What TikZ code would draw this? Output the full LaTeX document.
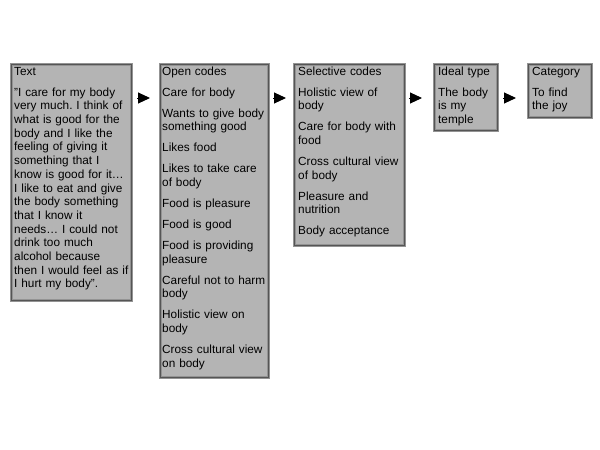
\documentclass[tikz,border=0pt]{standalone}
\usepackage{fontspec}
\setmainfont{Liberation Sans}
\usetikzlibrary{arrows.meta}
\definecolor{boxfill}{HTML}{B4B4B4}
\definecolor{boxedge}{HTML}{939393}
\definecolor{boxinner}{HTML}{555555}
\tikzset{
  codebox/.style={draw=boxedge, fill=boxfill, line width=3pt, inner sep=0pt, anchor=north west},
  innerline/.style={draw=boxinner, line width=0.8pt},
  boxtext/.style={anchor=north west, inner sep=0pt, align=left, text width=#1,
    font=\fontsize{11.8}{13.7}\selectfont\frenchspacing},
  flowarrow/.style={line width=1pt, -{Triangle[length=12pt,width=11pt]}}
}
\newcommand{\gap}{\\[7.3pt]}
\begin{document}
\begin{tikzpicture}[x=1pt,y=1pt]
\useasboundingbox (0,0) rectangle (600,-450);
% boxes
\node[codebox, minimum width=120pt, minimum height=236pt] (b1) at (9.5,-62.5) {};
\node[codebox, minimum width=108pt, minimum height=313pt] (b2) at (158.5,-62.5) {};
\node[codebox, minimum width=110pt, minimum height=181pt] (b3) at (292.5,-62.5) {};
\node[codebox, minimum width=63pt, minimum height=66pt] (b4) at (432.5,-62.5) {};
\node[codebox, minimum width=63pt, minimum height=53pt] (b5) at (526.5,-62.5) {};
\foreach \b in {b1,b2,b3,b4,b5}{
  \draw[innerline] ([shift={(1.6,-1.6)}]\b.north west) rectangle ([shift={(-1.6,1.6)}]\b.south east);
}
% texts
\node[boxtext=130pt] (t1) at (14,-65.4) {\strut Text\gap
\symbol{34}I care for my body\\ very much. I think of\\ what is good for the\\ body and I like the\\ feeling of giving it\\ something that I\\ know is good for it\ldots\\ I like to eat and give\\ the body something\\ that I know it\\ needs\ldots\ I could not\\ drink too much\\ alcohol because\\ then I would feel as if\\ I hurt my body”.};
\node[boxtext=130pt] (t2) at (162,-65.4) {\strut Open codes\gap
Care for body\gap
Wants to give body\\ something good\gap
Likes food\gap
Likes to take care\\ of body\gap
Food is pleasure\gap
Food is good\gap
Food is providing\\ pleasure\gap
Careful not to harm\\ body\gap
Holistic view on\\ body\gap
Cross cultural view\\ on body};
\node[boxtext=130pt] (t3) at (298,-65.4) {\strut Selective codes\gap
Holistic view of\\ body\gap
Care for body with\\ food\gap
Cross cultural view\\ of body\gap
Pleasure and\\ nutrition\gap
Body acceptance};
\node[boxtext=80pt] (t4) at (438,-65.4) {\strut Ideal type\gap
The body\\ is my\\ temple};
\node[boxtext=80pt] (t5) at (532,-65.4) {\strut Category\gap
To find\\ the joy};
% arrows
\coordinate (a1s) at (137,-98); \coordinate (a1e) at (150,-98);
\coordinate (a2s) at (273,-98); \coordinate (a2e) at (286,-98);
\coordinate (a3s) at (409,-98); \coordinate (a3e) at (422,-98);
\coordinate (a4s) at (503,-98); \coordinate (a4e) at (516,-98);
\draw[flowarrow] (a1s) -- (a1e);
\draw[flowarrow] (a2s) -- (a2e);
\draw[flowarrow] (a3s) -- (a3e);
\draw[flowarrow] (a4s) -- (a4e);
\end{tikzpicture}
\end{document}
